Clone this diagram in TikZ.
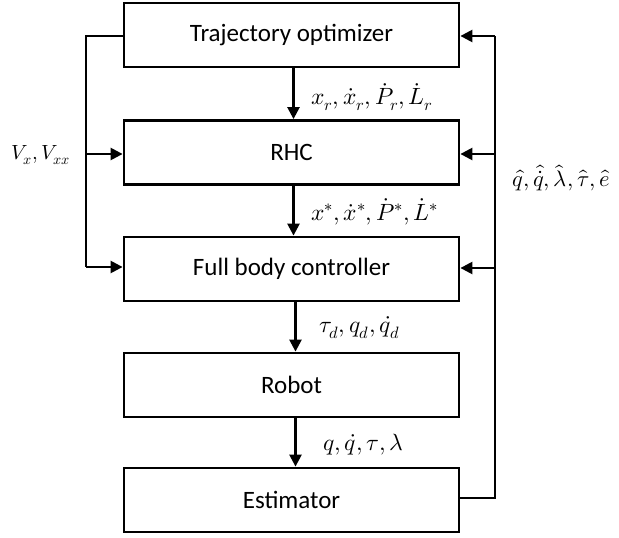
\documentclass[tikz,border=0pt]{standalone}
\usepackage{fontspec}
\usepackage{unicode-math}
\setmainfont{Carlito}
\setmathfont{Latin Modern Math}
\usetikzlibrary{arrows.meta}
\begin{document}
\begin{tikzpicture}[x=1pt,y=-1pt,
  blk/.style={draw,line width=2.8pt,minimum width=335pt,minimum height=64pt,inner sep=0pt,font=\fontsize{25}{29}\selectfont},
  conn/.style={line width=2.4pt,-{Triangle[length=12pt,width=12pt]}},
  wire/.style={line width=2.4pt},
  lbl/.style={font=\fontsize{23.5}{27}\selectfont,inner sep=0pt}]
\useasboundingbox (0,0) rectangle (619,538);
\node[blk] (traj) at (291.5,35) {Trajectory optimizer};
\node[blk] (rhc) at (291.5,152.5) {RHC};
\node[blk] (fbc) at (291.5,269) {Full body controller};
\node[blk] (rob) at (291.5,385) {Robot};
\node[blk] (est) at (291.5,500) {Estimator};
% central arrows
\draw[conn] ([xshift=2pt]traj.south) -- ([xshift=2pt]rhc.north);
\draw[conn] ([xshift=2pt]rhc.south) -- ([xshift=2pt]fbc.north);
\draw[conn] ([xshift=4pt]fbc.south) -- ([xshift=4pt]rob.north);
\draw[conn] ([xshift=4pt]rob.south) -- ([xshift=4pt]est.north);
% left loop
\coordinate (lt) at (86,36);
\coordinate (lm) at (86,154);
\coordinate (lb) at (86,267);
\draw[wire] (traj.west|-lt) -- (lt) -- (lb);
\draw[conn] (lb) -- (fbc.west|-lb);
\draw[conn] (lm) -- (rhc.west|-lm);
% right loop
\coordinate (rb) at (495,498);
\coordinate (rt) at (495,36);
\coordinate (rm) at (495,154);
\coordinate (rf) at (495,268);
\draw[wire] (est.east|-rb) -- (rb) -- (rt);
\draw[conn] (rt) -- (traj.east|-rt);
\draw[conn] (rm) -- (rhc.east|-rm);
\draw[conn] (rf) -- (fbc.east|-rf);
% labels
\node[lbl,anchor=west] (l1) at (311,97) {$x_r,\dot x_r,\dot P_r,\dot L_r$};
\node[lbl,anchor=west] (l2) at (311,212) {$x^*,\dot x^*,\dot P^*,\dot L^*$};
\node[lbl,anchor=west] (l3) at (319,328) {$\tau_d,q_d,\dot q_d$};
\node[lbl,anchor=west] (l4) at (323,445) {$q,\dot q,\tau,\lambda$};
\node[lbl,font=\fontsize{20.5}{24}\selectfont] (lv) at (41,155) {$V_x,V_{xx}$};
\node[lbl,font=\fontsize{22.5}{26}\selectfont] (lh) at (561,178) {$\hat q,\hat{\dot q},\hat\lambda,\hat\tau,\hat e$};
\end{tikzpicture}
\end{document}
